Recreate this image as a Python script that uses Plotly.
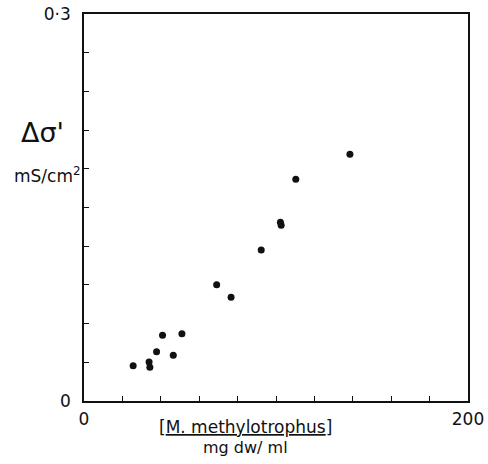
import plotly.graph_objects as go

# Biomass concentration (mg dry weight / ml) and conductivity change (mS/cm^2)
biomass = [25.6, 33.9, 34.3, 37.8, 40.9, 46.5, 51.0, 69.1, 76.6, 92.3, 102.3, 102.7, 110.3, 138.5]
delta_sigma = [0.0274, 0.0302, 0.0261, 0.0382, 0.0509, 0.0354, 0.0522, 0.0902, 0.0804,
               0.1171, 0.1385, 0.1362, 0.1719, 0.1912]

# Labelled ticks at the axis ends, unlabelled ticks in between
x_ticks = [0, 200]
x_labels = ["0", "200"]
x_minor_step = 20
y_ticks = [0, 0.3]
y_labels = ["0", "0·3"]
y_minor_step = 0.03

FONT = "DejaVu Sans"
INK = "#111111"

fig = go.Figure()
fig.add_trace(go.Scatter(
    x=biomass, y=delta_sigma, mode="markers",
    marker=dict(color=INK, size=7, line=dict(width=0)),
    showlegend=False, hoverinfo="skip",
))

axis_common = dict(
    showgrid=False, zeroline=False, mirror=True, showline=True,
    linecolor=INK, linewidth=1.6, ticks="inside", ticklen=5,
    tickwidth=1.4, tickcolor=INK, automargin=False,
    tickfont=dict(family=FONT, size=17, color=INK),
)
minor_common = dict(ticks="inside", ticklen=5, tickwidth=1.4, tickcolor=INK, showgrid=False)

fig.update_layout(
    width=488, height=464,
    margin=dict(l=84, r=20, t=14, b=63),
    paper_bgcolor="white", plot_bgcolor="white",
    xaxis=dict(range=[0, 200], tickvals=x_ticks, ticktext=x_labels,
               minor=dict(dtick=x_minor_step, tick0=0, **minor_common),
               ticklabelstandoff=2, **axis_common),
    yaxis=dict(range=[0, 0.3], tickvals=y_ticks, ticktext=y_labels,
               minor=dict(dtick=y_minor_step, tick0=0, **minor_common),
               ticklabelstandoff=8, **axis_common),
    annotations=[
        dict(text="[<span style='text-decoration:underline'>M. methylotrophus</span>]",
             xref="paper", yref="paper", x=0.42, y=-0.0672,
             xanchor="center", yanchor="middle", showarrow=False, borderpad=0,
             font=dict(family=FONT, size=17, color=INK)),
        dict(text="mg dw/ ml", xref="paper", yref="paper", x=0.42, y=-0.1189,
             xanchor="center", yanchor="middle", showarrow=False, borderpad=0,
             font=dict(family=FONT, size=16, color=INK)),
        dict(text="Δσ'", xref="paper", yref="paper", x=-0.107, y=0.693,
             xanchor="center", yanchor="middle", showarrow=False,
             font=dict(family=FONT, size=27, color=INK)),
        dict(text="mS/cm<sup>2</sup>", xref="paper", yref="paper", x=-0.003, y=0.585,
             xanchor="right", yanchor="middle", showarrow=False,
             font=dict(family=FONT, size=17, color=INK)),
    ],
)

fig.write_html("out.html")
